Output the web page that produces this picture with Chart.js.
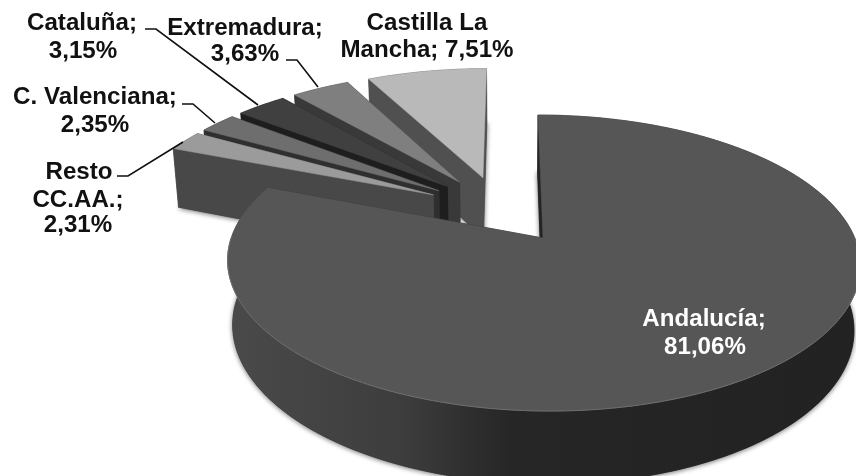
<!DOCTYPE html>
<html><head><meta charset="utf-8">
<style>html,body{margin:0;padding:0;background:#fff;overflow:hidden}canvas{display:block;filter:blur(0.45px)}</style>
<script src="https://cdn.jsdelivr.net/npm/chart.js@4"></script>
</head><body><canvas id="c" width="856" height="476"></canvas>
<script>
const categories = ["Andalucía","Resto CC.AA.","C. Valenciana","Cataluña","Extremadura","Castilla La Mancha"];
const shares = [81.06,2.31,2.35,3.15,3.63,7.51];
const topColors = ["#565656","#9b9b9b","#6e6e6e","#404040","#7f7f7f","#b9b9b9"];
const wallColors = ["#242424","#484848","#2f2f2f","#1e1e1e","#393939","#505050"];
const labelLines = [["Andalucía;","81,06%"],["Resto","CC.AA.;","2,31%"],["C. Valenciana;","2,35%"],["Cataluña;","3,15%"],["Extremadura;","3,63%"],["Castilla La","Mancha; 7,51%"]];

const P = {cx:508.5,cy:238,u0:0.1106,Rx:311.8,Ry:143.8,k:0.169,m:0.018,H:65,explode:0.25,groupRadius:1.02};
function pt(u,v,z){const D=1+P.k*v+P.m*z;return [P.cx+P.Rx*(u+P.u0)/D,P.cy+(-P.Ry*v+P.H*z)/D];}
const labelPos = [
 [[704,320],[705,348]],
 [[79,173],[78,201],[78,226]],
 [[95,98],[95,126]],
 [[82,24],[83,52]],
 [[245,29],[245,55]],
 [[427,24],[427,51]]
];
const leaders = [null,
 [[117,176],[128,176],[183,142]],
 [[182,104],[193,104],[215,123]],
 [[145,29],[156,29],[258,105]],
 [[286,60],[297,60],[318,87]],
 null];

const pie3d = {
 id:'pie3d',
 beforeDatasetsDraw(chart){
  const ctx=chart.ctx, arcs=chart.getDatasetMeta(0).data;
  const a0=arcs[0], mid0=(a0.startAngle+a0.endAngle)/2;
  const C=[-P.explode*Math.cos(mid0), P.explode*Math.sin(mid0)];
  function fill(pts,col,shadow){
   ctx.save();
   if(shadow){ctx.shadowColor='rgba(0,0,0,0.55)';ctx.shadowBlur=5;ctx.shadowOffsetX=0;ctx.shadowOffsetY=1;}
   ctx.beginPath();pts.forEach((p,i)=>i?ctx.lineTo(p[0],p[1]):ctx.moveTo(p[0],p[1]));
   ctx.closePath();ctx.fillStyle=col;ctx.strokeStyle=col;ctx.lineWidth=0.5;ctx.fill();ctx.stroke();ctx.restore();
  }
  for(let i=arcs.length-1;i>=0;i--){
   const a=arcs[i], mid=(a.startAngle+a.endAngle)/2;
   const ox=C[0]+P.explode*Math.cos(mid), oy=C[1]-P.explode*Math.sin(mid);
   const n=Math.max(4,Math.ceil((a.endAngle-a.startAngle)*60));
   const r=i===0?1:P.groupRadius;
   const rim=[];
   for(let j=0;j<=n;j++){const t=a.startAngle+(a.endAngle-a.startAngle)*j/n;rim.push([ox+r*Math.cos(t),oy-r*Math.sin(t)]);}
   const apexT=pt(ox,oy,0), apexB=pt(ox,oy,1);
   const topPts=[apexT,...rim.map(q=>pt(q[0],q[1],0))];
   const botPts=[apexB,...rim.map(q=>pt(q[0],q[1],1))];
   let wallFill=wallColors[i];
   if(i===0){
    const g=ctx.createLinearGradient(227,0,856,0);
    g.addColorStop(0,'#4a4a4a');g.addColorStop(0.28,'#3d3d3d');g.addColorStop(0.45,'#262626');g.addColorStop(1,'#222222');
    wallFill=g;
   }
   fill(botPts,wallColors[i],true);
   const s=rim[0], e=rim[rim.length-1];
   fill([apexT,pt(e[0],e[1],0),pt(e[0],e[1],1),apexB],wallColors[i]);
   fill([apexT,pt(s[0],s[1],0),pt(s[0],s[1],1),apexB],wallColors[i]);
   const wall=[...rim.map(q=>pt(q[0],q[1],0)),...rim.slice().reverse().map(q=>pt(q[0],q[1],1))];
   fill(wall,wallFill);
   fill(topPts,topColors[i]);
   if(i===0){
    ctx.save();ctx.strokeStyle='#707070';ctx.lineWidth=1;ctx.beginPath();
    let started=false;
    rim.forEach(q=>{const p=pt(q[0],q[1],0);if(q[1]<0.02){started?ctx.lineTo(p[0],p[1]):ctx.moveTo(p[0],p[1]);started=true;}});
    ctx.stroke();ctx.restore();
   }
  }
  return false;
 },
 afterDraw(chart){
  const ctx=chart.ctx;
  ctx.save();
  ctx.strokeStyle='#111';ctx.lineWidth=1.6;
  leaders.forEach(l=>{if(!l)return;ctx.beginPath();l.forEach((p,i)=>i?ctx.lineTo(p[0],p[1]):ctx.moveTo(p[0],p[1]));ctx.stroke();});
  ctx.font='bold 23px "Liberation Sans"';ctx.textAlign='center';ctx.textBaseline='middle';
  labelLines.forEach((lines,i)=>{
   lines.forEach((t,j)=>{
    ctx.save();
    ctx.fillStyle=i===0?'#fff':'#111';
    ctx.translate(labelPos[i][j][0],labelPos[i][j][1]);
    ctx.scale(1.05,1);
    ctx.fillText(t,0,0);
    ctx.restore();
   });
  });
  ctx.restore();
 }
};

new Chart(document.getElementById('c'),{
 type:'pie',
 data:{labels:categories,datasets:[{data:shares,backgroundColor:topColors,borderWidth:0}]},
 options:{responsive:false,animation:false,rotation:0,devicePixelRatio:1,
  plugins:{legend:{display:false},tooltip:{enabled:false},title:{display:false}}},
 plugins:[pie3d]
});
</script></body></html>
